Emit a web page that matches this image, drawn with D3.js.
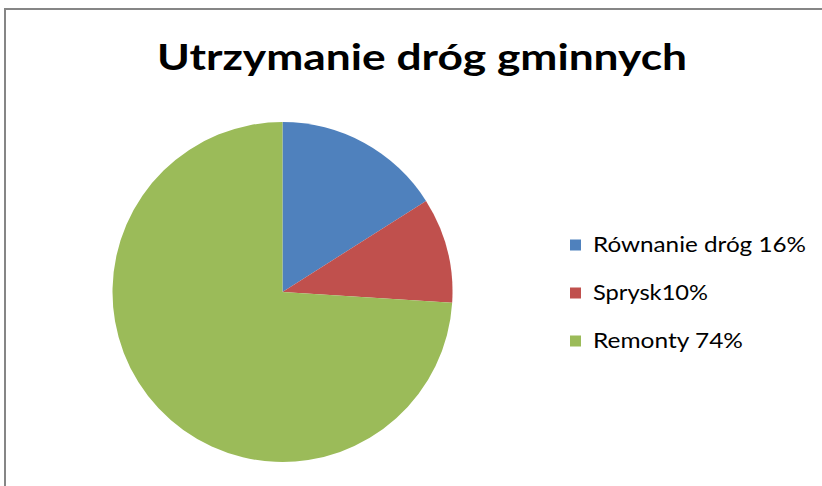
<!DOCTYPE html>
<html>
<head>
<meta charset="utf-8">
<script src="https://cdn.jsdelivr.net/npm/d3@7/dist/d3.min.js"></script>
<style>
  html, body { margin: 0; padding: 0; background: #fff; }
  svg { display: block; }
</style>
</head>
<body>
<svg id="chart" width="822" height="486"></svg>
<script>
const title = "Utrzymanie dróg gminnych";
const categories = ["Równanie dróg 16%", "Sprysk10%", "Remonty 74%"];
const values = [16, 10, 74];
const colors = ["#4F81BD", "#C0504D", "#9BBB59"];
const legendWidths = [213, 115, 150];

const svg = d3.select("#chart");
const W = 822, H = 486;

svg.append("rect").attr("x", 0).attr("y", 0).attr("width", W).attr("height", H).attr("fill", "#fff");

// chart frame
svg.append("rect")
  .attr("x", 5).attr("y", 9).attr("width", 840).attr("height", 500)
  .attr("fill", "none").attr("stroke", "#868686").attr("stroke-width", 2);

// title
svg.append("text")
  .attr("x", 157).attr("y", 69.5)
  .attr("font-family", "Lato, 'Open Sans', sans-serif")
  .attr("font-weight", "bold")
  .attr("font-size", 36)
  .attr("fill", "#000")
  .attr("textLength", 530)
  .attr("lengthAdjust", "spacingAndGlyphs")
  .text(title);

// pie
const cx = 282.5, cy = 292, r = 170;
const pie = d3.pie().sort(null).value(d => d)(values);
const arc = d3.arc().innerRadius(0).outerRadius(r);
const g = svg.append("g").attr("transform", `translate(${cx},${cy})`);
g.selectAll("path").data(pie).join("path")
  .attr("d", arc)
  .attr("fill", (d, i) => colors[i]);

// legend
const ly = d3.scalePoint().domain(categories).range([251.5, 347.5]);
const lg = svg.append("g");
categories.forEach((c, i) => {
  const y = ly(c);
  lg.append("rect")
    .attr("x", 570).attr("y", y - 12).attr("width", 11).attr("height", 11)
    .attr("fill", colors[i]);
  lg.append("text")
    .attr("x", 593).attr("y", y)
    .attr("font-family", "Lato, 'Open Sans', sans-serif")
    .attr("font-size", 21)
    .attr("fill", "#000")
    .attr("textLength", legendWidths[i])
    .attr("lengthAdjust", "spacingAndGlyphs")
    .text(c);
});
</script>
</body>
</html>
